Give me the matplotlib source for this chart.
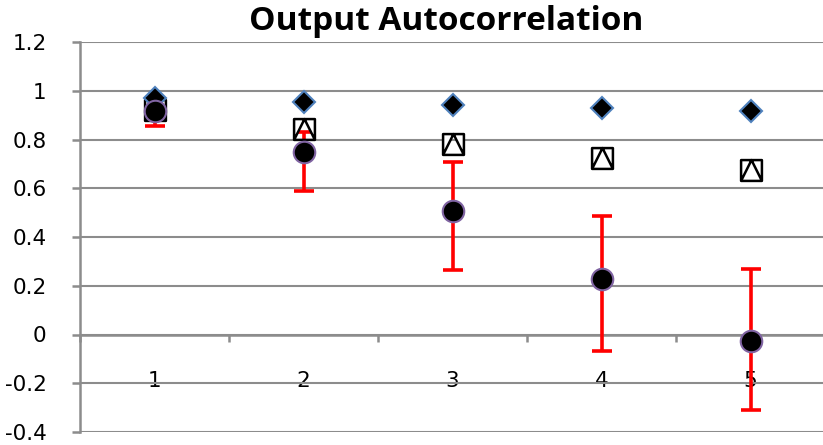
import numpy as np
import matplotlib.pyplot as plt
from matplotlib.path import Path

# lag values and the three series
lags = [1, 2, 3, 4, 5]
series_a = [0.97, 0.955, 0.94, 0.93, 0.915]   # diamonds
series_b = [0.92, 0.845, 0.78, 0.725, 0.675]  # squares
series_c = [0.915, 0.747, 0.507, 0.226, -0.027]  # circles
err_low = [0.856, 0.588, 0.263, -0.069, -0.311]
err_high = [0.94, 0.83, 0.706, 0.486, 0.267]

yticks = [-0.4, -0.2, 0, 0.2, 0.4, 0.6, 0.8, 1, 1.2]
ytick_labels = ["-0.4", "-0.2", "0", "0.2", "0.4", "0.6", "0.8", "1", "1.2"]

# square with a triangle drawn inside
verts = [(-1, -1), (1, -1), (1, 1), (-1, 1), (-1, -1),
         (-1, -1), (0, 1), (1, -1)]
codes = [Path.MOVETO, Path.LINETO, Path.LINETO, Path.LINETO, Path.CLOSEPOLY,
         Path.MOVETO, Path.LINETO, Path.LINETO]
sq_tri = Path(verts, codes)

grey = "#8c8c8c"

fig = plt.figure(figsize=(8.23, 4.45), dpi=100)
ax = fig.add_axes([80 / 823, 13 / 445, 745 / 823, 390 / 445])

x = np.array(lags)
c = np.array(series_c)
yerr = [c - np.array(err_low), np.array(err_high) - c]
ax.errorbar(x, c, yerr=yerr, fmt="none", ecolor="#ff0000", elinewidth=2.6,
            capsize=7, capthick=2.6, zorder=3)
ax.plot(x, series_b, linestyle="none", marker=sq_tri, markersize=15,
        markerfacecolor="white", markeredgecolor="black", markeredgewidth=1.8, zorder=4)
ax.plot(x, series_a, linestyle="none", marker="D", markersize=11.5,
        markerfacecolor="black", markeredgecolor="#4f81bd", markeredgewidth=1.5, zorder=5)
ax.plot(x, c, linestyle="none", marker="o", markersize=15.5,
        markerfacecolor="black", markeredgecolor="#8064a2", markeredgewidth=1.5, zorder=6)

ax.set_xlim(0.5, 5.5)
ax.set_ylim(-0.4, 1.2)
ax.set_yticks(yticks)
ax.set_yticklabels(ytick_labels)
ax.yaxis.grid(True, color=grey, linewidth=1.5)
ax.set_axisbelow(True)

# category axis sits on y = 0
ax.spines["bottom"].set_position(("data", 0))
for side in ["top", "right"]:
    ax.spines[side].set_visible(False)
ax.spines["left"].set_color(grey)
ax.spines["left"].set_linewidth(1.8)
ax.spines["bottom"].set_color(grey)
ax.spines["bottom"].set_linewidth(1.8)

ax.set_xticks(lags)
ax.set_xticklabels([str(l) for l in lags])
ax.set_xticks([0.5, 1.5, 2.5, 3.5, 4.5, 5.5], minor=True)
ax.tick_params(axis="x", which="major", length=0, pad=26, labelsize=15.5)
ax.tick_params(axis="x", which="minor", length=5, width=1.8, color=grey, direction="out")
ax.tick_params(axis="y", length=6, width=1.8, color=grey, pad=18, labelsize=15.5)

fig.text(446 / 823, 1 - 21 / 445, "Output Autocorrelation", ha="center", va="center",
         fontsize=24, fontweight="bold", family="Open Sans")

fig.savefig("out.png", dpi=100)
